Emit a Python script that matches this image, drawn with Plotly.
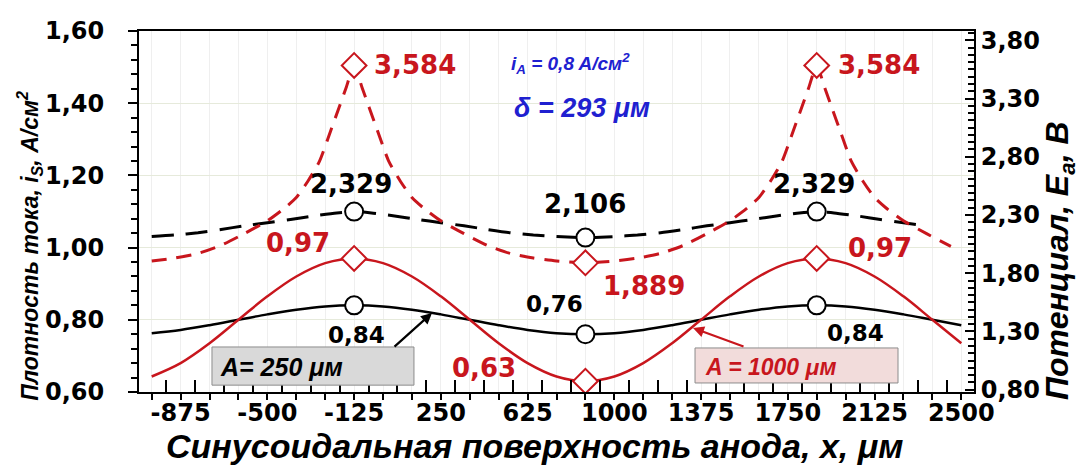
import numpy as np
import plotly.graph_objects as go

# ---------------- data ----------------
# current density, left axis (A/cm2)
x_solid = [-1000, -875, -750, -625, -500, -375, -250, -125, 0, 125, 250, 375, 500, 625,
           750, 875, 1000, 1125, 1250, 1375, 1500, 1625, 1750, 1875, 2000, 2125, 2250, 2375, 2500]
i_A250 = [0.763, 0.772, 0.785, 0.800, 0.815, 0.828, 0.837, 0.840, 0.837, 0.828, 0.815, 0.800, 0.785, 0.772,
          0.763, 0.760, 0.763, 0.772, 0.785, 0.800, 0.815, 0.828, 0.837, 0.840, 0.837, 0.828, 0.815, 0.800, 0.785]
i_A1000 = [0.643, 0.680, 0.735, 0.800, 0.865, 0.920, 0.957, 0.970, 0.957, 0.920, 0.865, 0.800, 0.735, 0.680,
           0.643, 0.630, 0.643, 0.680, 0.735, 0.800, 0.865, 0.920, 0.957, 0.970, 0.957, 0.920, 0.865, 0.800, 0.735]

# potential, right axis (V)
x_E250 = [-1000, -900, -800, -700, -600, -500, -400, -300, -200, -125, -50, 50, 150, 250, 350, 450, 550,
          650, 750, 875, 1000, 1100, 1200, 1300, 1400, 1500, 1600, 1700, 1800, 1875, 1950, 2050, 2150,
          2250, 2330]
E_A250 = [2.115, 2.128, 2.148, 2.176, 2.207, 2.234, 2.262, 2.292, 2.318, 2.329, 2.318, 2.292, 2.262, 2.234,
          2.207, 2.176, 2.148, 2.128, 2.115, 2.106, 2.115, 2.128, 2.148, 2.176, 2.207, 2.234, 2.262, 2.292,
          2.318, 2.329, 2.318, 2.292, 2.262, 2.234, 2.212]

x_E1000 = [-1000, -900, -800, -700, -600, -500, -425, -375, -325, -275, -225, -190, -160, -125, -90, -60,
           -25, 25, 75, 125, 175, 250, 350, 450, 550, 650, 750, 875, 1000, 1100, 1200, 1300, 1400, 1500,
           1575, 1625, 1675, 1725, 1775, 1810, 1840, 1875, 1910, 1940, 1975, 2025, 2075, 2125, 2175, 2250,
           2350, 2455]
E_A1000 = [1.905, 1.930, 1.970, 2.040, 2.140, 2.250, 2.360, 2.450, 2.590, 2.760, 3.030, 3.224, 3.390, 3.584,
           3.390, 3.224, 3.030, 2.760, 2.590, 2.450, 2.360, 2.250, 2.140, 2.040, 1.970, 1.930, 1.905, 1.889,
           1.905, 1.930, 1.970, 2.040, 2.140, 2.250, 2.360, 2.450, 2.590, 2.760, 3.030, 3.224, 3.390, 3.584,
           3.390, 3.224, 3.030, 2.760, 2.590, 2.450, 2.360, 2.250, 2.140, 2.030]

# marked points
x_marks = [-125, 875, 1875]
i_A250_marks = [0.84, 0.76, 0.84]
i_A1000_marks = [0.97, 0.63, 0.97]
E_A250_marks = [2.329, 2.106, 2.329]
E_A1000_marks = [3.584, 1.889, 3.584]

# axes
x_tick_labels = [-875, -500, -125, 250, 625, 1000, 1375, 1750, 2125, 2500]
y_left_ticks = [0.60, 0.80, 1.00, 1.20, 1.40, 1.60]
y_right_ticks = [0.80, 1.30, 1.80, 2.30, 2.80, 3.30, 3.80]

# ---------------- styling ----------------
RED = "#c8161d"
BLACK = "#000000"
BLUE = "#2020d0"
TICKFONT = dict(family="DejaVu Sans", size=24, color=BLACK, weight="bold")

fig = go.Figure()

fig.add_trace(go.Scatter(x=x_solid, y=i_A250, mode="lines", line=dict(color=BLACK, width=2.5, shape="spline"),
                         yaxis="y", hoverinfo="skip"))
fig.add_trace(go.Scatter(x=x_solid, y=i_A1000, mode="lines", line=dict(color=RED, width=2.5, shape="spline"),
                         yaxis="y", hoverinfo="skip"))
fig.add_trace(go.Scatter(x=x_E250, y=E_A250, mode="lines",
                         line=dict(color=BLACK, width=3, dash="22px,12px", shape="spline", smoothing=0.6),
                         yaxis="y2", hoverinfo="skip"))
fig.add_trace(go.Scatter(x=x_E1000, y=E_A1000, mode="lines",
                         line=dict(color=RED, width=3, dash="15px,10px", shape="spline", smoothing=0.6),
                         yaxis="y2", hoverinfo="skip"))

circle = dict(symbol="circle", size=18, color="white", line=dict(color=BLACK, width=2))
diamond = dict(symbol="diamond", size=19, color="white", line=dict(color=RED, width=2))
fig.add_trace(go.Scatter(x=x_marks, y=i_A250_marks, mode="markers", marker=circle, yaxis="y"))
fig.add_trace(go.Scatter(x=x_marks, y=i_A1000_marks, mode="markers", marker=diamond, yaxis="y"))
fig.add_trace(go.Scatter(x=x_marks, y=E_A250_marks, mode="markers", marker=circle, yaxis="y2"))
fig.add_trace(go.Scatter(x=x_marks, y=E_A1000_marks, mode="markers", marker=diamond, yaxis="y2"))

# x ticks: every 125 (labelled every 375)
x_tick_pos = list(np.arange(-1000, 2501, 125))
x_tick_text = [str(int(v)) if int(v) in x_tick_labels else "" for v in x_tick_pos]

fig.update_layout(
    width=1082, height=465,
    margin=dict(l=139, r=108, t=31, b=73),
    paper_bgcolor="white", plot_bgcolor="white",
    showlegend=False,
    separators=", ",
    xaxis=dict(range=[-1055, 2555], tickvals=x_tick_pos, ticktext=x_tick_text,
               ticks="outside", ticklen=6, tickwidth=2, tickcolor=BLACK,
               minor=dict(ticks="inside", tick0=-937.5, dtick=125, ticklen=12, tickwidth=2,
                          tickcolor=BLACK, showgrid=False),
               showline=True, linecolor=BLACK, linewidth=2, mirror=True,
               showgrid=True, gridcolor="#efefef", gridwidth=1, zeroline=False,
               tickfont=TICKFONT, ticklabelstandoff=-8),
    yaxis=dict(range=[0.6, 1.6], tickvals=y_left_ticks, tickformat=".2f",
               ticks="outside", ticklen=9, tickwidth=2, tickcolor=BLACK,
               minor=dict(ticks="outside", dtick=0.04, tick0=0.6, ticklen=6, tickwidth=2,
                          tickcolor=BLACK, showgrid=False),
               showline=True, linecolor=BLACK, linewidth=2,
               showgrid=True, gridcolor="#e6eadb", gridwidth=1, zeroline=False,
               tickfont=TICKFONT, ticklabelstandoff=19),
    yaxis2=dict(range=[0.78, 3.88], tickvals=y_right_ticks, tickformat=".2f",
                overlaying="y", side="right",
                ticks="inside", ticklen=9, tickwidth=2, tickcolor=BLACK,
                minor=dict(ticks="inside", dtick=0.0625, tick0=0.8, ticklen=6, tickwidth=2,
                           tickcolor=BLACK, showgrid=False),
                showline=True, linecolor=BLACK, linewidth=2,
                showgrid=False, zeroline=False, tickfont=TICKFONT, ticklabelstandoff=0),
)

annotations = []

def num(v, d):
    return f"{v:.{d}f}".replace(".", ",")

# value labels anchored on the marked points
label_specs = [
    # (x list, y list, yref, decimals, idx, xanchor, xshift, yshift, size, color)
    (x_marks, E_A1000_marks, "y2", 3, 0, "left", 18, 0, 26, RED),
    (x_marks, E_A1000_marks, "y2", 3, 1, "left", 16, -23, 26, RED),
    (x_marks, E_A1000_marks, "y2", 3, 2, "left", 19, 0, 26, RED),
    (x_marks, E_A250_marks, "y2", 3, 0, "center", -3, 28, 26, BLACK),
    (x_marks, E_A250_marks, "y2", 3, 1, "center", 0, 34, 26, BLACK),
    (x_marks, E_A250_marks, "y2", 3, 2, "center", -3, 28, 26, BLACK),
    (x_marks, i_A1000_marks, "y", 2, 0, "right", -22, 15, 26, RED),
    (x_marks, i_A1000_marks, "y", 2, 1, "right", -67, 13, 26, RED),
    (x_marks, i_A1000_marks, "y", 2, 2, "left", 29, 10, 26, RED),
    (x_marks, i_A250_marks, "y", 2, 0, "center", 2, -30, 23, BLACK),
    (x_marks, i_A250_marks, "y", 2, 1, "right", 0, 30, 23, BLACK),
    (x_marks, i_A250_marks, "y", 2, 2, "center", 39, -28, 23, BLACK),
]
for xs, ys, yref, dec, idx, xa, xsh, ysh, sz, col in label_specs:
    annotations.append(dict(x=xs[idx], y=ys[idx], xref="x", yref=yref, text=num(ys[idx], dec),
                            showarrow=False, xanchor=xa, yanchor="middle", xshift=xsh, yshift=ysh,
                            font=dict(family="DejaVu Sans", size=sz, color=col, weight="bold")))

BI = dict(style="italic", weight="bold")
C = dict(xanchor="center", yanchor="middle")
# blue notes
annotations.append(dict(x=0.517, y=0.909, xref="paper", yref="paper", showarrow=False, **C,
                        text="<i>i</i><sub>A</sub> = 0,8 A/см<sup>2</sup>",
                        font=dict(family="Liberation Sans", size=19, color=BLUE, **BI)))
annotations.append(dict(x=0.5305, y=0.787, xref="paper", yref="paper", showarrow=False, **C,
                        text="δ = 293 μм",
                        font=dict(family="Liberation Sans", size=27, color=BLUE, **BI)))
# box labels
annotations.append(dict(x=0.0946, y=0.069, xref="paper", yref="paper", showarrow=False,
                        xanchor="left", yanchor="middle",
                        text="A= 250 μм", font=dict(family="Liberation Sans", size=25, color=BLACK, **BI)))
annotations.append(dict(x=0.6754, y=0.069, xref="paper", yref="paper", showarrow=False,
                        xanchor="left", yanchor="middle",
                        text="A = 1000 μм", font=dict(family="Liberation Sans", size=23, color=RED, **BI)))
# arrows
annotations.append(dict(x=0.3509, y=0.2188, xref="paper", yref="paper", text="", showarrow=True,
                        ax=-39, ay=35, arrowhead=2, arrowsize=1, arrowwidth=2.2, arrowcolor=BLACK))
annotations.append(dict(x=0.6635, y=0.1773, xref="paper", yref="paper", text="", showarrow=True,
                        ax=52, ay=19, arrowhead=2, arrowsize=1, arrowwidth=2.2, arrowcolor=RED))
# axis titles
annotations.append(dict(x=0.474, y=-0.1496, xref="paper", yref="paper", showarrow=False, **C,
                        text="Синусоидальная поверхность анода, x, μм",
                        font=dict(family="Liberation Sans", size=34, color=BLACK, **BI)))
annotations.append(dict(x=-0.131, y=0.404, xref="paper", yref="paper", showarrow=False, textangle=-90, **C,
                        text="Плотность тока, <i>i</i><sub>S</sub>, А/см<sup>2</sup>",
                        font=dict(family="Liberation Sans", size=23, color=BLACK, **BI)))
annotations.append(dict(x=1.103, y=0.363, xref="paper", yref="paper", showarrow=False, textangle=-90, **C,
                        text="Потенциал, <i>E</i><sub>a</sub>, В",
                        font=dict(family="Liberation Sans", size=32, color=BLACK, **BI)))

shapes = [
    dict(type="rect", xref="paper", yref="paper", x0=0.0874, x1=0.3293, y0=0.019, y1=0.1247,
         fillcolor="#d9d9d9", line=dict(color="#8c8c8c", width=1), layer="above"),
    dict(type="rect", xref="paper", yref="paper", x0=0.6659, x1=0.909, y0=0.025, y1=0.122,
         fillcolor="#f2dcdb", line=dict(color="#8c8c8c", width=1), layer="above"),
]

fig.update_layout(annotations=annotations, shapes=shapes)
# remove the default 8px page margin so the figure fills the window exactly
fig.write_html("out.html", config={"displayModeBar": False},
               post_script="document.body.style.margin='0px';")
